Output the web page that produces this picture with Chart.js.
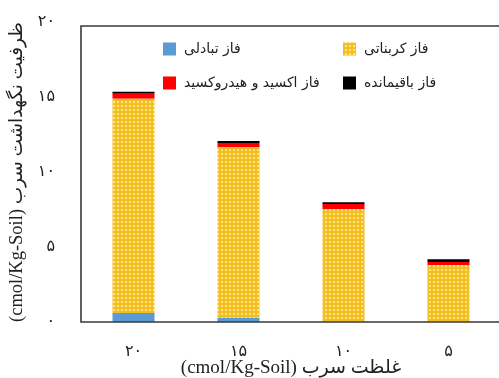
<!DOCTYPE html>
<html>
<head>
<meta charset="utf-8">
<script src="https://cdn.jsdelivr.net/npm/chart.js@4/dist/chart.umd.min.js"></script>
<style>
  html, body { margin: 0; padding: 0; background: #fff; overflow: hidden; }
  #wrap { width: 499px; height: 378px; overflow: hidden; }
  canvas { display: block; }
</style>
</head>
<body>
<div id="wrap"><canvas id="c" width="520" height="378" dir="rtl"></canvas></div>
<script>
// Lead concentration levels (cmol/Kg-Soil)
const categories = ['۲۰', '۱۵', '۱۰', '۵'];

// Retained lead in each soil phase (cmol/Kg-Soil), bottom to top of each stack
const exchangeable = [0.6, 0.27, 0, 0];
const carbonate    = [14.29, 11.38, 7.53, 3.8];
const oxide        = [0.33, 0.29, 0.33, 0.2];
const residual     = [0.13, 0.13, 0.12, 0.18];

const seriesNames = ['فاز تبادلی', 'فاز کربناتی', 'فاز اکسید و هیدروکسید', 'فاز باقیمانده'];

// Y axis tick values and their Persian labels
const yTickValues = [0, 5, 10, 15, 20];
const yTickLabels = ['۰', '۵', '۱۰', '۱۵', '۲۰'];

const SERIF = "'Liberation Serif', 'DejaVu Sans', serif";
const SANS = "'DejaVu Sans', sans-serif";

const canvas = document.getElementById('c');
const ctx = canvas.getContext('2d');

// Dotted gold fill for the carbonate phase
function dottedGold() {
  const t = document.createElement('canvas');
  t.width = 4; t.height = 4;
  const g = t.getContext('2d');
  g.fillStyle = '#F2BE22';
  g.fillRect(0, 0, 4, 4);
  g.fillStyle = '#FFE47E';
  g.fillRect(1, 1, 2, 2);
  return ctx.createPattern(t, 'repeat');
}
const goldPattern = dottedGold();

const colors = ['#5B9BD5', goldPattern, '#FF0000', '#000000'];
const seriesValues = [exchangeable, carbonate, oxide, residual];

// Left, top and bottom edges of the plot box (top edge sits just under the 20 tick)
const framePlugin = {
  id: 'frame',
  afterDatasetsDraw(chart) {
    const a = chart.chartArea;
    const c = chart.ctx;
    c.save();
    c.strokeStyle = '#3a3a3a';
    c.lineWidth = 1.6;
    c.beginPath();
    const top = a.top + 4;
    c.moveTo(a.right, a.bottom);
    c.lineTo(a.left, a.bottom);
    c.lineTo(a.left, top);
    c.lineTo(a.right, top);
    c.stroke();
    c.restore();
  }
};

// Two-column legend drawn inside the plot area
const gridLegend = {
  id: 'gridLegend',
  afterDraw(chart) {
    const c = chart.ctx;
    const a = chart.chartArea;
    const x0 = a.left + 82, y0 = a.top + 27;
    const colW = 180, rowH = 34, box = 13;
    c.save();
    c.font = '14px ' + SANS;
    c.textBaseline = 'middle';
    c.textAlign = 'left';
    chart.data.datasets.forEach((ds, i) => {
      const x = x0 + (i % 2) * colW;
      const y = y0 + Math.floor(i / 2) * rowH;
      c.fillStyle = ds.backgroundColor;
      c.fillRect(x, y - box / 2, box, box);
      c.fillStyle = '#222';
      c.fillText(ds.label, x + box + 8, y);
    });
    c.restore();
  }
};

function noOverhang(s) {
  s.paddingTop = 0; s.paddingBottom = 0;
  s.paddingLeft = 0; s.paddingRight = 0;
}

new Chart(ctx, {
  type: 'bar',
  data: {
    labels: categories,
    datasets: seriesNames.map((name, i) => ({
      label: name,
      data: seriesValues[i],
      backgroundColor: colors[i],
      borderWidth: 0
    }))
  },
  options: {
    responsive: false,
    animation: false,
    events: [],
    layout: { padding: { top: 22, right: 19, bottom: 0, left: 0 } },
    datasets: { bar: { categoryPercentage: 1, barPercentage: 0.4 } },
    plugins: { legend: { display: false }, tooltip: { enabled: false } },
    scales: {
      x: {
        stacked: true,
        grid: { display: false, drawTicks: false },
        border: { display: false },
        ticks: { color: '#222', font: { family: SANS, size: 16 }, padding: 20 },
        title: {
          display: true,
          text: 'غلظت سرب (cmol/Kg-Soil)',
          color: '#222',
          font: { family: SERIF, size: 19, lineHeight: 1 },
          padding: { top: 0, bottom: 0 }
        },
        afterFit(s) { s.height = 56; noOverhang(s); }
      },
      y: {
        stacked: true,
        min: 0,
        max: 20,
        grid: { display: false, drawTicks: false },
        border: { display: false },
        afterBuildTicks(s) { s.ticks = yTickValues.map(v => ({ value: v })); },
        ticks: {
          color: '#222',
          font: { family: SANS, size: 16 },
          padding: 26,
          callback: (v) => yTickLabels[yTickValues.indexOf(v)]
        },
        title: {
          display: true,
          text: 'ظرفیت نگهداشت سرب (cmol/Kg-Soil)',
          color: '#222',
          font: { family: SERIF, size: 18.5, lineHeight: 1.2 },
          padding: { top: 6, bottom: 0 }
        },
        afterFit(s) { s.width = 81; noOverhang(s); }
      }
    }
  },
  plugins: [framePlugin, gridLegend]
});
</script>
</body>
</html>
